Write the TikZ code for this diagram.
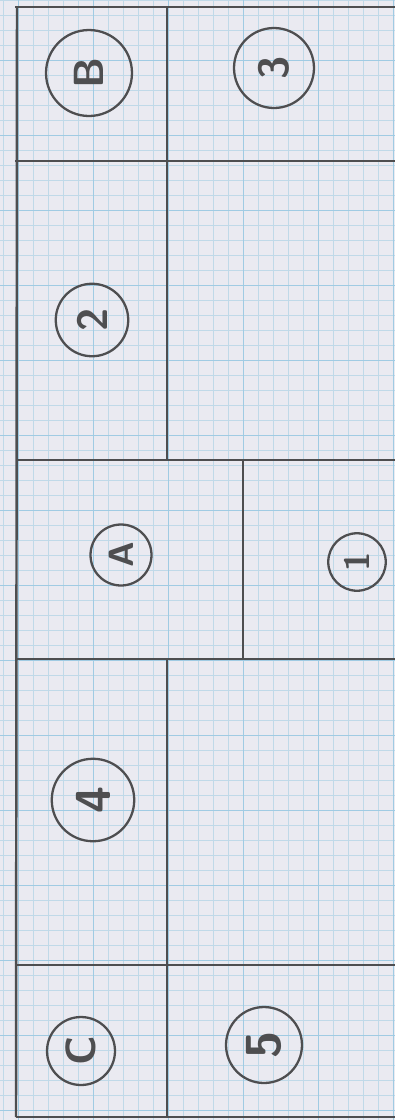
\documentclass[tikz,border=0pt]{standalone}
\usepackage{tikz}
\usetikzlibrary{positioning}
\definecolor{pencil}{RGB}{78,78,80}
\definecolor{paper}{RGB}{234,234,241}
\definecolor{gridblue}{RGB}{192,217,232}
\definecolor{gridmajor}{RGB}{160,203,227}

\begin{document}
\begin{tikzpicture}[x=0.02cm, y=-0.02cm,
	wall/.style={pencil, line width=1.4pt},
	tag/.style={circle, draw=pencil, line width=1.3pt, text=pencil, rotate=90,
		inner sep=0pt, minimum size=1.5cm, font=\sffamily\bfseries\fontsize{24}{24}\selectfont}]
	\useasboundingbox (0,0) rectangle (395,1120);
	
	% graph paper
	\fill[paper] (0,0) rectangle (395,1120);
	\foreach \x in {3,18,...,393} \draw[gridblue, line width=0.3pt] (\x,0) -- (\x,1120);
	\foreach \y in {0,15,...,1120} \draw[gridblue, line width=0.3pt] (0,\y) -- (395,\y);
	\foreach \x in {18,93,...,393} \draw[gridmajor, line width=0.5pt] (\x,0) -- (\x,1120);
	\foreach \y in {60,135,...,1120} \draw[gridmajor, line width=0.5pt] (0,\y) -- (395,\y);
	
	% outline
	\draw[wall] (15,7) -- (395,7);
	\draw[wall] (17,7) -- (16,1117);
	\draw[wall] (16,1117) -- (395,1117);
	
	% rows
	\draw[wall] (167,7) -- (167,161);
	\draw[wall] (15,161) -- (395,161);
	\draw[wall] (167,161) -- (167,460);
	\draw[wall] (17,460) -- (395,460);
	\draw[wall] (243,460) -- (243,659);
	\draw[wall] (17,659) -- (395,659);
	\draw[wall] (167,659) -- (167,965);
	\draw[wall] (16,965) -- (395,965);
	\draw[wall] (167,965) -- (167,1117);
	
	% labels
	\node[tag, minimum size=1.72cm] (tagB) at (89,73) {B};
	\node[tag, minimum size=1.6cm] (tag3) at (274,68) {3};
	\node[tag, minimum size=1.45cm] (tag2) at (92,320) {2};
	\node[tag, minimum size=1.22cm, font=\sffamily\bfseries\fontsize{20}{20}\selectfont] (tagA) at (121,555) {A};
	\node[tag, minimum size=1.15cm, font=\sffamily\bfseries\fontsize{20}{20}\selectfont] (tag1) at (357,562) {1};
	\node[tag, minimum size=1.65cm, font=\sffamily\bfseries\fontsize{28}{28}\selectfont] (tag4) at (93,800) {4};
	\node[tag, minimum size=1.36cm] (tagC) at (81,1051) {C};
	\node[tag, minimum size=1.52cm, font=\sffamily\bfseries\fontsize{28}{28}\selectfont] (tag5) at (264,1045) {5};
\end{tikzpicture}
\end{document}
